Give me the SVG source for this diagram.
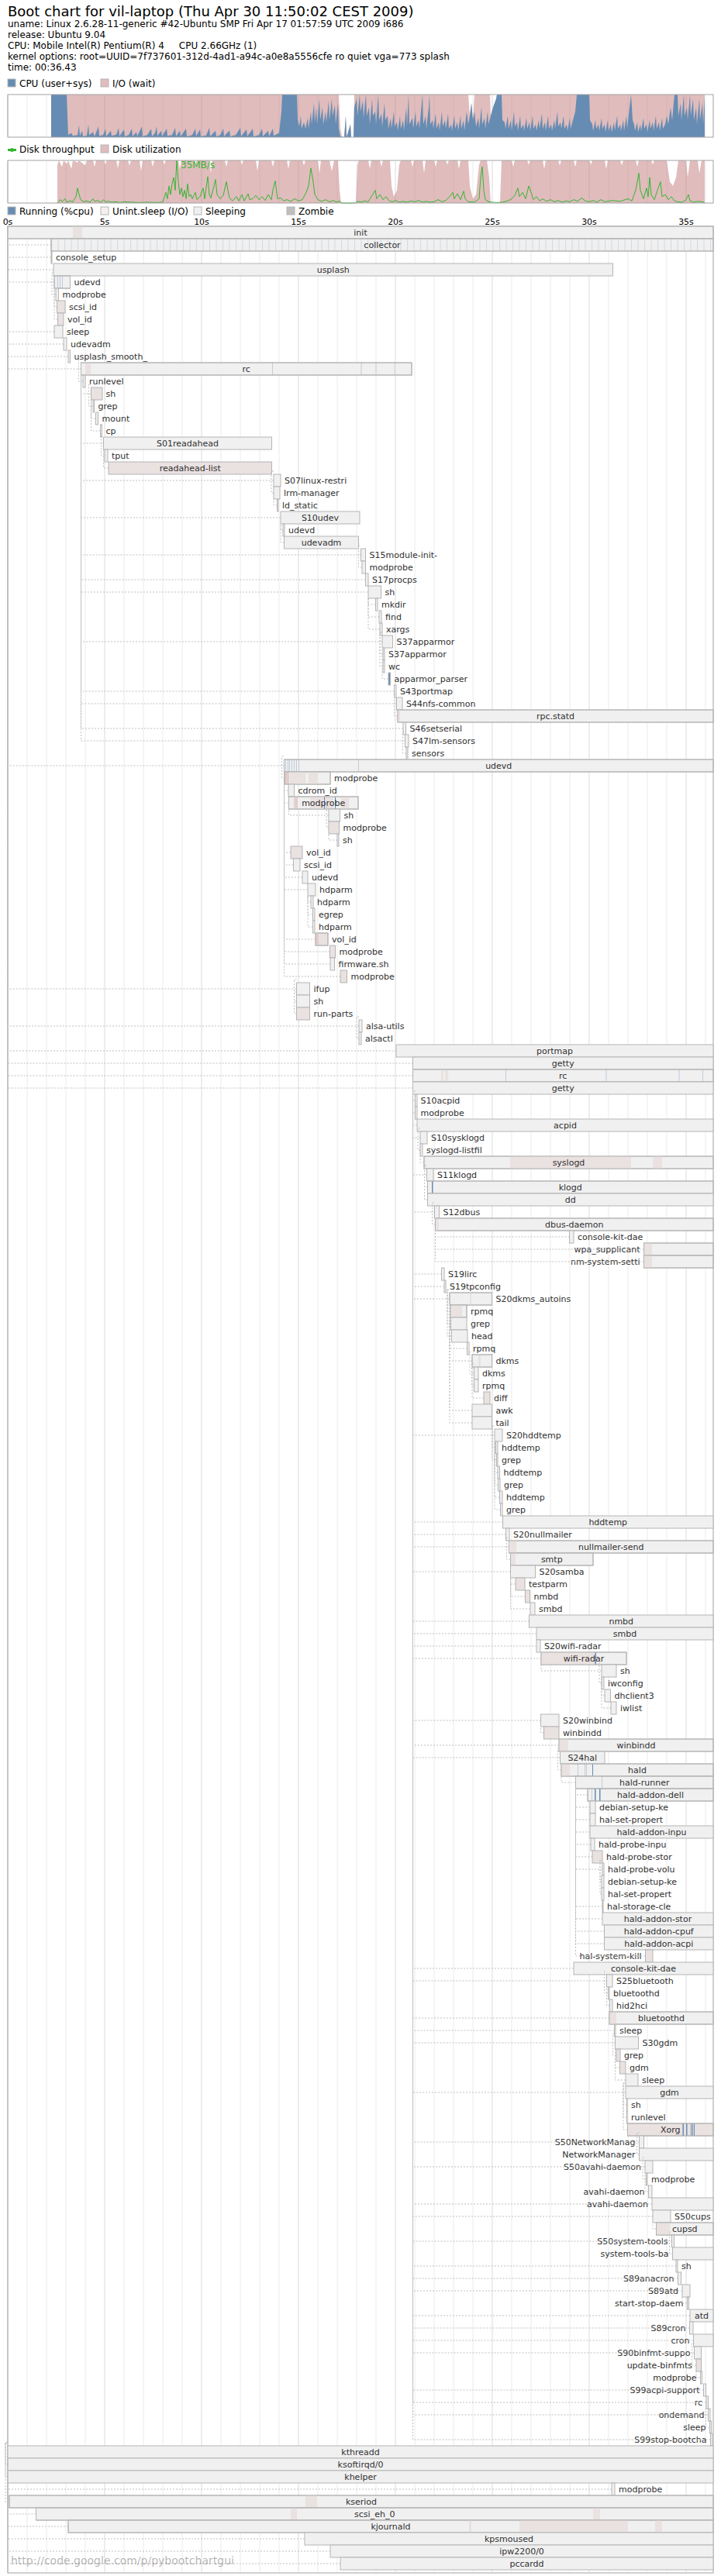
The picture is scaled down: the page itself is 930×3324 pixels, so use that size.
<svg xmlns="http://www.w3.org/2000/svg" width="930" height="3324" viewBox="0 0 930 3324">
<style>
.t{font-family:"DejaVu Sans","Liberation Sans",sans-serif;fill:#000}
.h1{font-size:18px}
.h{font-size:12px}
.ax{font-family:"DejaVu Sans","Liberation Sans",sans-serif;font-size:11px;text-anchor:middle;fill:#000}
.l{font-family:"DejaVu Sans","Liberation Sans",sans-serif;font-size:11px;fill:#303030}
.m{text-anchor:middle}
.e{text-anchor:end}
.b{fill:#f0f0f0;stroke:#b5b5b5;stroke-width:1}
.bd{fill:#eae1e1;stroke:#b5b5b5;stroke-width:1}
.o{fill:none;stroke:#b5b5b5;stroke-width:1}
.d{fill:#eae1e1}
.dd{fill:#e2cccc}
.r{fill:#668cb3}
.rl{fill:#668cb3;fill-opacity:0.35}
.tk{stroke:#ebebeb;stroke-width:1;fill:none}
.tkb{stroke:#dbdbdb;stroke-width:1;fill:none}
.bx{fill:none;stroke:#a1a1a1;stroke-width:1}
.lg{stroke:#b5b5b5;stroke-width:1}
#connectors path{fill:none;stroke:#bfbfbf;stroke-width:1;stroke-dasharray:2 2}
</style>
<defs>
<pattern id="cp" x="66" y="0" width="8.5" height="16" patternUnits="userSpaceOnUse"><rect x="0" y="0" width="1" height="16" fill="#668cb3" fill-opacity="0.22"/></pattern>
</defs>
<rect x="0" y="0" width="930" height="3324" fill="#fff"/>
<g id="header">
<text class="t h1" x="10" y="21">Boot chart for vil-laptop (Thu Apr 30 11:50:02 CEST 2009)</text>
<text class="t h" x="10" y="35">uname: Linux 2.6.28-11-generic #42-Ubuntu SMP Fri Apr 17 01:57:59 UTC 2009 i686</text>
<text class="t h" x="10" y="49">release: Ubuntu 9.04</text>
<text class="t h" x="10" y="63" xml:space="preserve" style="white-space:pre">CPU: Mobile Intel(R) Pentium(R) 4     CPU 2.66GHz (1)</text>
<text class="t h" x="10" y="77">kernel options: root=UUID=7f737601-312d-4ad1-a94c-a0e8a5556cfe ro quiet vga=773 splash</text>
<text class="t h" x="10" y="91">time: 00:36.43</text>
</g>
<g id="cpu-chart">
<rect class="lg" x="10" y="102" width="10" height="10" fill="#668cb3"/>
<text class="t h" x="25" y="112">CPU (user+sys)</text>
<rect class="lg" x="130" y="102" width="10" height="10" fill="#e0bdbd"/>
<text class="t h" x="145" y="112">I/O (wait)</text>
<rect x="10" y="122" width="910" height="55" fill="#fff"/>
<path class="tk" d="M35,123V176M60,123V176M85,123V176M110,123V176M160,123V176M185,123V176M210,123V176M235,123V176M285,123V176M310,123V176M335,123V176M360,123V176M410,123V176M435,123V176M460,123V176M485,123V176M535,123V176M560,123V176M585,123V176M610,123V176M660,123V176M685,123V176M710,123V176M735,123V176M785,123V176M810,123V176M835,123V176M860,123V176M910,123V176"/>
<path class="tkb" d="M10,123V176M135,123V176M260,123V176M385,123V176M510,123V176M635,123V176M760,123V176M885,123V176"/>
<g transform="translate(0,177) scale(1,-0.55)">
<polygon fill="#c27a7a" fill-opacity="0.5" points="66,0 66,100 437,100 439,20 441,2 444,0 446,50 447,0 452,30 453,0 456,0 457,100 604,100 606,50 608,80 610,40 612,100 632,100 633,50 636,70 640,90 641,100 909,100 909,0"/>
<polygon fill="#668cb3" points="66,0 66,100 86,100 87,50 88,5 92,10 94,3 100,5 102,28 103,3 106,15 107,2 112,4 114,30 115,5 120,12 122,2 127,25 128,3 133,5 136,20 137,2 143,15 144,3 150,6 153,22 154,2 160,18 161,2 166,5 170,20 171,2 176,12 177,2 183,25 184,2 190,5 195,20 196,2 200,10 202,25 203,3 208,15 209,2 215,20 216,3 222,5 226,22 227,2 232,15 233,2 240,20 241,2 248,5 252,20 253,2 258,18 259,2 266,4 270,22 271,2 278,15 279,2 284,5 288,20 289,2 296,16 297,2 304,5 310,22 311,2 318,18 319,2 326,20 327,2 334,5 338,20 339,2 346,15 347,2 352,20 353,3 360,10 363,60 364,100 383,100 384,40 386,25 388,50 389,20 392,35 394,20 397,45 398,20 401,60 402,30 405,80 406,35 408,70 409,30 412,90 413,40 416,70 417,30 420,60 421,35 424,85 425,40 428,90 429,50 432,75 433,30 436,80 437,20 439,2 444,0 446,50 447,0 452,30 453,0 456,0 457,70 460,90 461,50 464,100 465,60 468,85 469,45 472,100 473,50 476,70 477,30 480,90 481,50 484,60 485,30 488,100 489,40 492,55 493,25 496,80 497,40 500,50 501,20 504,45 505,20 508,60 509,25 512,35 513,15 516,50 517,20 520,40 521,15 524,70 525,25 527,100 528,30 532,45 533,20 536,60 537,25 540,40 541,20 545,100 546,30 549,50 550,20 553,70 554,100 555,30 558,40 559,20 562,55 563,20 566,35 567,15 570,60 571,25 574,40 575,20 578,55 579,20 582,30 583,15 586,50 587,20 590,35 591,15 594,50 595,20 598,40 599,15 602,60 604,30 606,50 608,80 610,40 612,60 614,25 617,45 618,20 621,70 622,30 625,45 626,20 629,60 630,30 633,50 636,70 640,90 641,100 647,100 648,40 651,35 652,20 655,50 656,20 659,40 660,15 663,60 664,25 667,35 668,15 671,50 672,20 675,30 676,15 679,45 680,20 683,35 684,15 687,50 688,20 691,30 692,15 695,40 696,20 699,55 700,20 703,35 704,15 707,50 708,20 711,30 712,15 715,40 716,20 719,60 720,25 723,35 724,20 727,50 728,20 731,30 732,15 735,45 736,20 739,40 742,60 744,100 760,100 761,40 764,30 765,15 768,40 769,20 772,30 773,15 776,45 777,20 780,30 781,12 784,40 785,15 788,30 789,12 792,35 793,15 796,50 797,20 800,30 801,15 804,40 805,15 808,50 809,20 812,70 814,100 816,40 818,30 819,15 822,35 823,12 826,30 827,15 830,45 831,20 834,30 835,12 838,40 839,20 842,35 843,15 846,50 847,20 850,35 851,15 854,45 855,20 858,30 860,50 862,30 865,70 867,40 870,100 874,100 875,50 878,80 879,40 882,100 883,50 886,70 887,40 890,100 891,50 894,90 895,40 898,70 899,30 902,90 903,40 906,80 907,30 909,95 909,0"/>
</g>
<rect class="bx" x="10" y="122" width="910" height="55"/>
</g>
<g id="disk-chart">
<rect x="10" y="192" width="11" height="3" fill="#33b533"/>
<circle cx="15.5" cy="193.5" r="2.5" fill="#33b533"/>
<text class="t h" x="25" y="197">Disk throughput</text>
<rect class="lg" x="130" y="187" width="10" height="10" fill="#e0bdbd"/>
<text class="t h" x="145" y="197">Disk utilization</text>
<path class="tk" d="M35,208V261M60,208V261M85,208V261M110,208V261M160,208V261M185,208V261M210,208V261M235,208V261M285,208V261M310,208V261M335,208V261M360,208V261M410,208V261M435,208V261M460,208V261M485,208V261M535,208V261M560,208V261M585,208V261M610,208V261M660,208V261M685,208V261M710,208V261M735,208V261M785,208V261M810,208V261M835,208V261M860,208V261M910,208V261"/>
<path class="tkb" d="M10,208V261M135,208V261M260,208V261M385,208V261M510,208V261M635,208V261M760,208V261M885,208V261"/>
<g transform="translate(0,262) scale(1,-0.55)">
<polygon fill="#c27a7a" fill-opacity="0.5" points="74,0 74,90 76,100 80,85 82,100 86,92 88,100 92,80 94,100 100,95 102,100 110,88 112,100 120,100 122,85 124,100 134,100 136,90 138,100 150,100 152,82 154,100 165,100 167,88 169,100 180,100 182,75 184,100 195,100 197,85 199,100 210,100 212,90 214,100 230,100 232,80 234,100 250,100 252,88 254,100 270,100 272,70 274,100 290,100 292,85 294,100 310,100 312,90 314,100 330,100 332,75 334,100 350,100 352,85 354,100 370,100 372,80 374,100 390,100 392,88 394,100 410,100 412,70 414,100 425,100 428,75 431,100 436,100 438,30 440,0 459,0 461,90 463,100 475,100 477,80 479,100 490,100 492,85 494,100 503,100 505,40 508,15 512,30 515,90 517,100 530,100 532,85 534,100 545,100 547,70 549,100 560,100 562,85 564,100 575,100 577,90 579,100 590,100 592,80 594,100 604,100 606,40 610,10 614,20 618,90 620,100 628,100 631,60 633,0 645,0 647,100 660,100 662,85 664,100 680,100 682,90 684,100 700,100 702,80 704,100 720,100 722,88 724,100 740,100 742,85 744,100 760,100 762,90 764,100 780,100 782,80 784,100 800,100 802,88 804,100 820,100 822,85 824,100 840,100 842,90 844,100 860,100 862,75 864,50 868,40 872,60 875,100 885,100 887,60 890,100 900,100 902,70 905,100 909,100 909,0"/>
<polyline fill="none" stroke="#33b533" stroke-width="1" vector-effect="non-scaling-stroke" points="74,0 78,8 80,3 84,10 86,2 90,5 94,3 98,15 100,35 102,20 104,8 108,3 112,5 116,2 120,10 122,4 126,6 130,2 134,8 136,3 140,4 144,2 150,3 155,1 160,3 170,2 180,1 190,2 200,1 210,2 214,25 216,10 218,40 220,20 222,45 224,60 226,30 228,100 230,50 232,20 234,35 236,15 238,30 240,10 242,45 244,15 246,20 248,10 252,25 254,8 258,15 262,35 264,10 268,62 270,20 272,12 276,40 278,55 280,20 284,10 288,18 292,50 294,30 296,12 300,5 305,15 308,5 312,20 315,5 320,22 322,8 326,10 330,18 334,8 338,15 342,6 346,20 350,8 352,30 355,52 358,10 362,12 366,5 370,8 375,4 380,10 385,5 390,8 395,25 398,40 401,82 404,50 406,20 410,8 415,4 420,8 425,3 430,6 434,2 438,5 440,0 458,0 462,4 466,2 470,5 475,3 480,18 484,30 486,10 490,20 494,8 498,15 502,5 506,3 510,6 515,2 520,4 525,2 530,5 535,3 540,6 545,2 550,4 555,2 560,3 565,8 570,3 575,6 580,15 584,25 586,10 590,22 594,8 598,28 600,10 604,3 612,2 618,10 620,60 622,85 624,30 626,8 630,3 640,1 648,2 655,5 660,10 664,18 668,35 670,15 674,25 678,10 682,40 686,20 688,8 692,15 696,5 700,10 705,4 710,8 715,3 720,6 725,2 730,5 735,3 740,8 745,4 750,12 755,5 760,3 765,6 770,2 775,8 780,3 790,6 800,4 810,10 815,5 820,30 824,70 826,30 830,10 834,35 836,15 838,60 840,20 844,8 848,30 852,50 854,15 858,20 862,8 866,15 870,5 874,3 880,2 885,8 888,20 890,5 895,2 900,4 905,3 909,1"/>
</g>
<text class="h" x="233" y="217" font-family="DejaVu Sans, Liberation Sans, sans-serif" fill="#33b533">35MB/s</text>
<rect class="bx" x="10" y="207" width="910" height="55"/>
</g>
<g id="process-legend">
<rect class="lg" x="10" y="267" width="10" height="10" fill="#668cb3"/>
<text class="t h" x="25" y="277">Running (%cpu)</text>
<rect class="lg" x="130" y="267" width="10" height="10" fill="#f7efef"/>
<text class="t h" x="145" y="277">Unint.sleep (I/O)</text>
<rect class="lg" x="250" y="267" width="10" height="10" fill="#f0f0f0"/>
<text class="t h" x="265" y="277">Sleeping</text>
<rect class="lg" x="370" y="267" width="10" height="10" fill="#bfbfbf"/>
<text class="t h" x="385" y="277">Zombie</text>
<text class="ax" x="10" y="290">0s</text>
<text class="ax" x="135" y="290">5s</text>
<text class="ax" x="260" y="290">10s</text>
<text class="ax" x="385" y="290">15s</text>
<text class="ax" x="510" y="290">20s</text>
<text class="ax" x="635" y="290">25s</text>
<text class="ax" x="760" y="290">30s</text>
<text class="ax" x="885" y="290">35s</text>
</g>
<g id="process-grid">
<rect x="10" y="292" width="910" height="3028" fill="#fff"/>
<path class="tk" d="M35,293V3319M60,293V3319M85,293V3319M110,293V3319M160,293V3319M185,293V3319M210,293V3319M235,293V3319M285,293V3319M310,293V3319M335,293V3319M360,293V3319M410,293V3319M435,293V3319M460,293V3319M485,293V3319M535,293V3319M560,293V3319M585,293V3319M610,293V3319M660,293V3319M685,293V3319M710,293V3319M735,293V3319M785,293V3319M810,293V3319M835,293V3319M860,293V3319M910,293V3319"/>
<path class="tkb" d="M10,293V3319M135,293V3319M260,293V3319M385,293V3319M510,293V3319M635,293V3319M760,293V3319M885,293V3319"/>
<rect class="bx" x="10" y="292" width="910" height="3028"/>
</g>
<g id="processes">
<g id="n0" transform="translate(0,292)"><rect class="b" x="10" width="910" height="16"/><rect class="d" x="94" width="12" height="16"/><rect class="o" x="10" width="910" height="16"/><text class="l m" x="465" y="12">init</text></g>
<g id="n1" transform="translate(0,308)"><rect class="b" x="66" width="854" height="16"/><rect x="66" width="854" height="16" fill="url(#cp)"/><rect class="o" x="66" width="854" height="16"/><text class="l m" x="493" y="12">collector</text></g>
<g id="n2" transform="translate(0,324)"><rect class="b" x="66" width="1" height="16"/><text class="l" x="72" y="12">console_setup</text></g>
<g id="n3" transform="translate(0,340)"><rect class="b" x="69" width="721.5" height="16"/><text class="l m" x="429.75" y="12">usplash</text></g>
<g id="n4" transform="translate(0,356)"><rect class="b" x="70" width="20.5" height="16"/><rect class="rl" x="74" width="1" height="16"/><rect class="rl" x="77" width="1" height="16"/><rect class="rl" x="80" width="1" height="16"/><rect class="o" x="70" width="20.5" height="16"/><text class="l" x="95.5" y="12">udevd</text></g>
<g id="n5" transform="translate(0,372)"><rect class="b" x="72" width="3.5" height="16"/><text class="l" x="80.5" y="12">modprobe</text></g>
<g id="n6" transform="translate(0,388)"><rect class="bd" x="73.5" width="10.5" height="16"/><text class="l" x="89" y="12">scsi_id</text></g>
<g id="n7" transform="translate(0,404)"><rect class="bd" x="74.5" width="7.5" height="16"/><text class="l" x="87" y="12">vol_id</text></g>
<g id="n8" transform="translate(0,420)"><rect class="b" x="70" width="11" height="16"/><text class="l" x="86" y="12">sleep</text></g>
<g id="n9" transform="translate(0,436)"><rect class="b" x="82" width="4" height="16"/><text class="l" x="91" y="12">udevadm</text></g>
<g id="n10" transform="translate(0,452)"><rect class="b" x="88" width="2.5" height="16"/><text class="l" x="95.5" y="12">usplash_smooth_</text></g>
<g id="n11" transform="translate(0,468)"><rect class="b" x="104.5" width="426.5" height="16"/><rect class="d" x="110" width="7" height="16"/><rect class="rl" x="351" width="1" height="16"/><rect class="rl" x="465.5" width="1" height="16"/><rect class="rl" x="484.5" width="1" height="16"/><rect class="rl" x="509" width="1" height="16"/><rect class="o" x="104.5" width="426.5" height="16"/><text class="l m" x="317.75" y="12">rc</text></g>
<g id="n12" transform="translate(0,484)"><rect class="b" x="107" width="3" height="16"/><text class="l" x="115" y="12">runlevel</text></g>
<g id="n13" transform="translate(0,500)"><rect class="bd" x="117.5" width="14.5" height="16"/><text class="l" x="136.5" y="12">sh</text></g>
<g id="n14" transform="translate(0,516)"><rect class="b" x="120" width="1.5" height="16"/><text class="l" x="126.5" y="12">grep</text></g>
<g id="n15" transform="translate(0,532)"><rect class="b" x="123.5" width="3" height="16"/><text class="l" x="131.5" y="12">mount</text></g>
<g id="n16" transform="translate(0,548)"><rect class="b" x="129.5" width="2" height="16"/><text class="l" x="136.5" y="12">cp</text></g>
<g id="n17" transform="translate(0,564)"><rect class="b" x="133.5" width="217" height="16"/><text class="l m" x="242" y="12">S01readahead</text></g>
<g id="n18" transform="translate(0,580)"><rect class="b" x="135" width="4" height="16"/><text class="l" x="144" y="12">tput</text></g>
<g id="n19" transform="translate(0,596)"><rect class="bd" x="140" width="210.5" height="16"/><text class="l m" x="245.25" y="12">readahead-list</text></g>
<g id="n20" transform="translate(0,612)"><rect class="b" x="353" width="9" height="16"/><text class="l" x="367" y="12">S07linux-restri</text></g>
<g id="n21" transform="translate(0,628)"><rect class="b" x="353" width="8" height="16"/><text class="l" x="366" y="12">lrm-manager</text></g>
<g id="n22" transform="translate(0,644)"><rect class="b" x="357.5" width="1.5" height="16"/><text class="l" x="364" y="12">ld_static</text></g>
<g id="n23" transform="translate(0,660)"><rect class="b" x="362" width="102" height="16"/><text class="l m" x="413" y="12">S10udev</text></g>
<g id="n24" transform="translate(0,676)"><rect class="b" x="365" width="2" height="16"/><text class="l" x="372" y="12">udevd</text></g>
<g id="n25" transform="translate(0,692)"><rect class="b" x="366.5" width="96" height="16"/><text class="l m" x="414.5" y="12">udevadm</text></g>
<g id="n26" transform="translate(0,708)"><rect class="b" x="465.5" width="6" height="16"/><text class="l" x="476.5" y="12">S15module-init-</text></g>
<g id="n27" transform="translate(0,724)"><rect class="b" x="467" width="4.5" height="16"/><text class="l" x="476.5" y="12">modprobe</text></g>
<g id="n28" transform="translate(0,740)"><rect class="b" x="471.5" width="3.5" height="16"/><text class="l" x="480" y="12">S17procps</text></g>
<g id="n29" transform="translate(0,756)"><rect class="b" x="475" width="16.5" height="16"/><text class="l" x="496.5" y="12">sh</text></g>
<g id="n30" transform="translate(0,772)"><rect class="b" x="484.5" width="2.5" height="16"/><text class="l" x="492" y="12">mkdir</text></g>
<g id="n31" transform="translate(0,788)"><rect class="b" x="489" width="3" height="16"/><text class="l" x="497" y="12">find</text></g>
<g id="n32" transform="translate(0,804)"><rect class="b" x="490" width="3" height="16"/><text class="l" x="498" y="12">xargs</text></g>
<g id="n33" transform="translate(0,820)"><rect class="b" x="493" width="13.5" height="16"/><text class="l" x="511.5" y="12">S37apparmor</text></g>
<g id="n34" transform="translate(0,836)"><rect class="b" x="494" width="2" height="16"/><text class="l" x="501" y="12">S37apparmor</text></g>
<g id="n35" transform="translate(0,852)"><rect class="b" x="494" width="2" height="16"/><text class="l" x="501" y="12">wc</text></g>
<g id="n36" transform="translate(0,868)"><rect x="501" width="2.5" height="16" fill="#668cb3" stroke="#b5b5b5"/><text class="l" x="508.5" y="12">apparmor_parser</text></g>
<g id="n37" transform="translate(0,884)"><rect class="b" x="508.5" width="2.5" height="16"/><text class="l" x="516" y="12">S43portmap</text></g>
<g id="n38" transform="translate(0,900)"><rect class="b" x="511.5" width="7.5" height="16"/><text class="l" x="524" y="12">S44nfs-common</text></g>
<g id="n39" transform="translate(0,916)"><rect class="b" x="513" width="407" height="16"/><rect class="d" x="513" width="3" height="16"/><rect class="o" x="513" width="407" height="16"/><text class="l m" x="716.5" y="12">rpc.statd</text></g>
<g id="n40" transform="translate(0,932)"><rect class="b" x="520" width="3.5" height="16"/><text class="l" x="528.5" y="12">S46setserial</text></g>
<g id="n41" transform="translate(0,948)"><rect class="b" x="522.5" width="4.5" height="16"/><text class="l" x="532" y="12">S47lm-sensors</text></g>
<g id="n42" transform="translate(0,964)"><rect class="b" x="524" width="2" height="16"/><text class="l" x="531" y="12">sensors</text></g>
<g id="n43" transform="translate(0,980)"><rect class="b" x="366.5" width="553.5" height="16"/><rect class="rl" x="368" width="1" height="16"/><rect class="rl" x="371" width="1" height="16"/><rect class="rl" x="373" width="1" height="16"/><rect class="rl" x="376" width="1" height="16"/><rect class="rl" x="379" width="1" height="16"/><rect class="rl" x="382" width="1" height="16"/><rect class="rl" x="385" width="1" height="16"/><rect class="rl" x="462" width="1" height="16"/><rect class="o" x="366.5" width="553.5" height="16"/><text class="l m" x="643.25" y="12">udevd</text></g>
<g id="n44" transform="translate(0,996)"><rect class="b" x="367.5" width="58.5" height="16"/><rect class="dd" x="368" width="5" height="16"/><rect class="d" x="374" width="20" height="16"/><rect class="d" x="398" width="12" height="16"/><rect class="o" x="367.5" width="58.5" height="16"/><text class="l" x="431" y="12">modprobe</text></g>
<g id="n45" transform="translate(0,1012)"><rect class="b" x="372" width="7.5" height="16"/><text class="l" x="384.5" y="12">cdrom_id</text></g>
<g id="n46" transform="translate(0,1028)"><rect class="b" x="372.5" width="89.5" height="16"/><rect class="d" x="378" width="6" height="16"/><rect class="dd" x="380" width="4" height="16"/><rect class="d" x="400" width="30" height="16"/><rect class="r" x="418" width="1" height="16"/><rect class="r" x="432" width="1" height="16"/><rect class="d" x="440" width="10" height="16"/><rect class="o" x="372.5" width="89.5" height="16"/><text class="l m" x="417.25" y="12">modprobe</text></g>
<g id="n47" transform="translate(0,1044)"><rect class="b" x="424" width="14.5" height="16"/><text class="l" x="443.5" y="12">sh</text></g>
<g id="n48" transform="translate(0,1060)"><rect class="bd" x="424" width="13.5" height="16"/><text class="l" x="442.5" y="12">modprobe</text></g>
<g id="n49" transform="translate(0,1076)"><rect class="b" x="435" width="2" height="16"/><text class="l" x="442" y="12">sh</text></g>
<g id="n50" transform="translate(0,1092)"><rect class="bd" x="375" width="15" height="16"/><text class="l" x="395" y="12">vol_id</text></g>
<g id="n51" transform="translate(0,1108)"><rect class="b" x="378.5" width="8.5" height="16"/><text class="l" x="392" y="12">scsi_id</text></g>
<g id="n52" transform="translate(0,1124)"><rect class="b" x="390" width="7" height="16"/><text class="l" x="402" y="12">udevd</text></g>
<g id="n53" transform="translate(0,1140)"><rect class="b" x="397" width="10" height="16"/><text class="l" x="412" y="12">hdparm</text></g>
<g id="n54" transform="translate(0,1156)"><rect class="b" x="401" width="3" height="16"/><text class="l" x="409" y="12">hdparm</text></g>
<g id="n55" transform="translate(0,1172)"><rect class="b" x="403.5" width="2.5" height="16"/><text class="l" x="411" y="12">egrep</text></g>
<g id="n56" transform="translate(0,1188)"><rect class="b" x="403.5" width="2.5" height="16"/><text class="l" x="411" y="12">hdparm</text></g>
<g id="n57" transform="translate(0,1204)"><rect class="bd" x="407" width="16" height="16"/><rect class="dd" x="407" width="4" height="16"/><rect class="o" x="407" width="16" height="16"/><text class="l" x="428" y="12">vol_id</text></g>
<g id="n58" transform="translate(0,1220)"><rect class="bd" x="425.5" width="7" height="16"/><text class="l" x="437.5" y="12">modprobe</text></g>
<g id="n59" transform="translate(0,1236)"><rect class="b" x="426" width="5.5" height="16"/><text class="l" x="436.5" y="12">firmware.sh</text></g>
<g id="n60" transform="translate(0,1252)"><rect class="bd" x="439" width="8.5" height="16"/><text class="l" x="452.5" y="12">modprobe</text></g>
<g id="n61" transform="translate(0,1268)"><rect class="b" x="382.5" width="17" height="16"/><text class="l" x="404.5" y="12">ifup</text></g>
<g id="n62" transform="translate(0,1284)"><rect class="b" x="382.5" width="17" height="16"/><text class="l" x="404.5" y="12">sh</text></g>
<g id="n63" transform="translate(0,1300)"><rect class="bd" x="382.5" width="17" height="16"/><text class="l" x="404.5" y="12">run-parts</text></g>
<g id="n64" transform="translate(0,1316)"><rect class="b" x="463" width="4" height="16"/><text class="l" x="472" y="12">alsa-utils</text></g>
<g id="n65" transform="translate(0,1332)"><rect class="b" x="463" width="3" height="16"/><text class="l" x="471" y="12">alsactl</text></g>
<g id="n66" transform="translate(0,1348)"><rect class="b" x="511" width="409" height="16"/><text class="l m" x="715.5" y="12">portmap</text></g>
<g id="n67" transform="translate(0,1364)"><rect class="b" x="532.5" width="387.5" height="16"/><text class="l m" x="726.25" y="12">getty</text></g>
<g id="n68" transform="translate(0,1380)"><rect class="b" x="532.5" width="387.5" height="16"/><rect class="d" x="569" width="3" height="16"/><rect class="d" x="574" width="4" height="16"/><rect class="rl" x="652" width="1" height="16"/><rect class="rl" x="781.5" width="1" height="16"/><rect class="rl" x="875.5" width="1" height="16"/><rect class="rl" x="906" width="1" height="16"/><rect class="o" x="532.5" width="387.5" height="16"/><text class="l m" x="726.25" y="12">rc</text></g>
<g id="n69" transform="translate(0,1396)"><rect class="b" x="532.5" width="387.5" height="16"/><text class="l m" x="726.25" y="12">getty</text></g>
<g id="n70" transform="translate(0,1412)"><rect class="b" x="535.5" width="2.5" height="16"/><text class="l" x="542.5" y="12">S10acpid</text></g>
<g id="n71" transform="translate(0,1428)"><rect class="b" x="535.5" width="2.5" height="16"/><text class="l" x="542.5" y="12">modprobe</text></g>
<g id="n72" transform="translate(0,1444)"><rect class="b" x="538" width="382" height="16"/><text class="l m" x="729" y="12">acpid</text></g>
<g id="n73" transform="translate(0,1460)"><rect class="b" x="542" width="9" height="16"/><text class="l" x="556" y="12">S10sysklogd</text></g>
<g id="n74" transform="translate(0,1476)"><rect class="b" x="542" width="3" height="16"/><text class="l" x="550" y="12">syslogd-listfil</text></g>
<g id="n75" transform="translate(0,1492)"><rect class="b" x="547" width="373" height="16"/><rect class="d" x="658" width="156" height="16"/><rect class="d" x="842" width="12" height="16"/><rect class="o" x="547" width="373" height="16"/><text class="l m" x="733.5" y="12">syslogd</text></g>
<g id="n76" transform="translate(0,1508)"><rect class="b" x="550.5" width="8.5" height="16"/><text class="l" x="564" y="12">S11klogd</text></g>
<g id="n77" transform="translate(0,1524)"><rect class="b" x="551.5" width="368.5" height="16"/><rect class="r" x="557" width="1.5" height="16"/><rect class="o" x="551.5" width="368.5" height="16"/><text class="l m" x="735.75" y="12">klogd</text></g>
<g id="n78" transform="translate(0,1540)"><rect class="b" x="551.5" width="368.5" height="16"/><text class="l m" x="735.75" y="12">dd</text></g>
<g id="n79" transform="translate(0,1556)"><rect class="b" x="560.5" width="6" height="16"/><text class="l" x="571.5" y="12">S12dbus</text></g>
<g id="n80" transform="translate(0,1572)"><rect class="b" x="561.5" width="358.5" height="16"/><rect class="d" x="562" width="4" height="16"/><rect class="o" x="561.5" width="358.5" height="16"/><text class="l m" x="740.75" y="12">dbus-daemon</text></g>
<g id="n81" transform="translate(0,1588)"><rect class="b" x="734.5" width="5.5" height="16"/><text class="l" x="745" y="12">console-kit-dae</text></g>
<g id="n82" transform="translate(0,1604)"><rect class="b" x="830.5" width="89.5" height="16"/><rect class="d" x="831" width="10" height="16"/><rect class="o" x="830.5" width="89.5" height="16"/><text class="l e" x="825.5" y="12">wpa_supplicant</text></g>
<g id="n83" transform="translate(0,1620)"><rect class="b" x="830.5" width="89.5" height="16"/><rect class="d" x="831" width="10" height="16"/><rect class="o" x="830.5" width="89.5" height="16"/><text class="l e" x="825.5" y="12">nm-system-setti</text></g>
<g id="n84" transform="translate(0,1636)"><rect class="b" x="569.5" width="3.5" height="16"/><text class="l" x="578" y="12">S19lirc</text></g>
<g id="n85" transform="translate(0,1652)"><rect class="b" x="573" width="2" height="16"/><text class="l" x="580" y="12">S19tpconfig</text></g>
<g id="n86" transform="translate(0,1668)"><rect class="b" x="580" width="54.5" height="16"/><rect class="d" x="606" width="2" height="16"/><rect class="o" x="580" width="54.5" height="16"/><text class="l" x="639.5" y="12">S20dkms_autoins</text></g>
<g id="n87" transform="translate(0,1684)"><rect class="b" x="581.5" width="20.5" height="16"/><rect class="d" x="583" width="13" height="16"/><rect class="o" x="581.5" width="20.5" height="16"/><text class="l" x="607" y="12">rpmq</text></g>
<g id="n88" transform="translate(0,1700)"><rect class="b" x="581.5" width="20.5" height="16"/><text class="l" x="607" y="12">grep</text></g>
<g id="n89" transform="translate(0,1716)"><rect class="b" x="582.5" width="20.5" height="16"/><text class="l" x="608" y="12">head</text></g>
<g id="n90" transform="translate(0,1732)"><rect class="b" x="602.5" width="2.5" height="16"/><text class="l" x="610" y="12">rpmq</text></g>
<g id="n91" transform="translate(0,1748)"><rect class="b" x="609" width="25.5" height="16"/><rect class="d" x="617" width="3" height="16"/><rect class="o" x="609" width="25.5" height="16"/><text class="l" x="639.5" y="12">dkms</text></g>
<g id="n92" transform="translate(0,1764)"><rect class="b" x="611.5" width="5.5" height="16"/><text class="l" x="622" y="12">dkms</text></g>
<g id="n93" transform="translate(0,1780)"><rect class="b" x="611.5" width="5.5" height="16"/><text class="l" x="622" y="12">rpmq</text></g>
<g id="n94" transform="translate(0,1796)"><rect class="bd" x="624" width="8" height="16"/><text class="l" x="637" y="12">diff</text></g>
<g id="n95" transform="translate(0,1812)"><rect class="b" x="609" width="25.5" height="16"/><text class="l" x="639.5" y="12">awk</text></g>
<g id="n96" transform="translate(0,1828)"><rect class="b" x="609" width="25.5" height="16"/><text class="l" x="639.5" y="12">tail</text></g>
<g id="n97" transform="translate(0,1844)"><rect class="b" x="638" width="10" height="16"/><text class="l" x="653" y="12">S20hddtemp</text></g>
<g id="n98" transform="translate(0,1860)"><rect class="b" x="639.5" width="2.5" height="16"/><text class="l" x="647" y="12">hddtemp</text></g>
<g id="n99" transform="translate(0,1876)"><rect class="b" x="640.5" width="1.5" height="16"/><text class="l" x="647" y="12">grep</text></g>
<g id="n100" transform="translate(0,1892)"><rect class="b" x="642" width="2.5" height="16"/><text class="l" x="649.5" y="12">hddtemp</text></g>
<g id="n101" transform="translate(0,1908)"><rect class="b" x="642.5" width="2.5" height="16"/><text class="l" x="650" y="12">grep</text></g>
<g id="n102" transform="translate(0,1924)"><rect class="b" x="644.5" width="3.5" height="16"/><text class="l" x="653" y="12">hddtemp</text></g>
<g id="n103" transform="translate(0,1940)"><rect class="b" x="645.5" width="2.5" height="16"/><text class="l" x="653" y="12">grep</text></g>
<g id="n104" transform="translate(0,1956)"><rect class="b" x="648.5" width="271.5" height="16"/><text class="l m" x="784.25" y="12">hddtemp</text></g>
<g id="n105" transform="translate(0,1972)"><rect class="b" x="652.5" width="4.5" height="16"/><text class="l" x="662" y="12">S20nullmailer</text></g>
<g id="n106" transform="translate(0,1988)"><rect class="b" x="656.5" width="263.5" height="16"/><rect class="d" x="658" width="8" height="16"/><rect class="o" x="656.5" width="263.5" height="16"/><text class="l m" x="788.25" y="12">nullmailer-send</text></g>
<g id="n107" transform="translate(0,2004)"><rect class="b" x="658.5" width="106.5" height="16"/><rect class="d" x="659" width="6" height="16"/><rect class="o" x="658.5" width="106.5" height="16"/><text class="l m" x="711.75" y="12">smtp</text></g>
<g id="n108" transform="translate(0,2020)"><rect class="b" x="658.5" width="32" height="16"/><text class="l" x="695.5" y="12">S20samba</text></g>
<g id="n109" transform="translate(0,2036)"><rect class="bd" x="665" width="12" height="16"/><text class="l" x="682" y="12">testparm</text></g>
<g id="n110" transform="translate(0,2052)"><rect class="bd" x="677.5" width="6" height="16"/><text class="l" x="688.5" y="12">nmbd</text></g>
<g id="n111" transform="translate(0,2068)"><rect class="b" x="684" width="6" height="16"/><text class="l" x="695" y="12">smbd</text></g>
<g id="n112" transform="translate(0,2084)"><rect class="b" x="682.5" width="237.5" height="16"/><text class="l m" x="801.25" y="12">nmbd</text></g>
<g id="n113" transform="translate(0,2100)"><rect class="b" x="692" width="228" height="16"/><text class="l m" x="806" y="12">smbd</text></g>
<g id="n114" transform="translate(0,2116)"><rect class="b" x="692" width="5" height="16"/><text class="l" x="702" y="12">S20wifi-radar</text></g>
<g id="n115" transform="translate(0,2132)"><rect class="b" x="698" width="110" height="16"/><rect class="d" x="698" width="70" height="16"/><rect class="r" x="767.5" width="1.5" height="16"/><rect class="o" x="698" width="110" height="16"/><text class="l m" x="753" y="12">wifi-radar</text></g>
<g id="n116" transform="translate(0,2148)"><rect class="b" x="776" width="19" height="16"/><text class="l" x="800" y="12">sh</text></g>
<g id="n117" transform="translate(0,2164)"><rect class="b" x="776" width="3" height="16"/><text class="l" x="784" y="12">iwconfig</text></g>
<g id="n118" transform="translate(0,2180)"><rect class="b" x="780" width="7.5" height="16"/><text class="l" x="792.5" y="12">dhclient3</text></g>
<g id="n119" transform="translate(0,2196)"><rect class="b" x="788" width="7" height="16"/><text class="l" x="800" y="12">iwlist</text></g>
<g id="n120" transform="translate(0,2212)"><rect class="b" x="697.5" width="23.5" height="16"/><text class="l" x="726" y="12">S20winbind</text></g>
<g id="n121" transform="translate(0,2228)"><rect class="bd" x="701.5" width="19.5" height="16"/><text class="l" x="726" y="12">winbindd</text></g>
<g id="n122" transform="translate(0,2244)"><rect class="b" x="721" width="199" height="16"/><rect class="d" x="721" width="12" height="16"/><rect class="o" x="721" width="199" height="16"/><text class="l m" x="820.5" y="12">winbindd</text></g>
<g id="n123" transform="translate(0,2260)"><rect class="b" x="722.5" width="57.5" height="16"/><text class="l m" x="751.25" y="12">S24hal</text></g>
<g id="n124" transform="translate(0,2276)"><rect class="b" x="724" width="196" height="16"/><rect class="d" x="724" width="11" height="16"/><rect class="rl" x="745" width="1" height="16"/><rect class="rl" x="754" width="1" height="16"/><rect class="rl" x="756" width="1" height="16"/><rect class="r" x="764" width="1" height="16"/><rect class="o" x="724" width="196" height="16"/><text class="l m" x="822" y="12">hald</text></g>
<g id="n125" transform="translate(0,2292)"><rect class="b" x="742.5" width="177.5" height="16"/><rect class="rl" x="776" width="1" height="16"/><rect class="o" x="742.5" width="177.5" height="16"/><text class="l m" x="831.25" y="12">hald-runner</text></g>
<g id="n126" transform="translate(0,2308)"><rect class="b" x="758" width="162" height="16"/><rect class="rl" x="763" width="1" height="16"/><rect class="r" x="767" width="1.5" height="16"/><rect class="r" x="773" width="1.5" height="16"/><rect class="o" x="758" width="162" height="16"/><text class="l m" x="839" y="12">hald-addon-dell</text></g>
<g id="n127" transform="translate(0,2324)"><rect class="b" x="761" width="7" height="16"/><text class="l" x="773" y="12">debian-setup-ke</text></g>
<g id="n128" transform="translate(0,2340)"><rect class="b" x="761" width="7" height="16"/><text class="l" x="773" y="12">hal-set-propert</text></g>
<g id="n129" transform="translate(0,2356)"><rect class="b" x="761" width="159" height="16"/><text class="l m" x="840.5" y="12">hald-addon-inpu</text></g>
<g id="n130" transform="translate(0,2372)"><rect class="b" x="762" width="5" height="16"/><text class="l" x="772" y="12">hald-probe-inpu</text></g>
<g id="n131" transform="translate(0,2388)"><rect class="bd" x="764" width="13" height="16"/><text class="l" x="782" y="12">hald-probe-stor</text></g>
<g id="n132" transform="translate(0,2404)"><rect class="b" x="777" width="2" height="16"/><text class="l" x="784" y="12">hald-probe-volu</text></g>
<g id="n133" transform="translate(0,2420)"><rect class="b" x="776" width="3" height="16"/><text class="l" x="784" y="12">debian-setup-ke</text></g>
<g id="n134" transform="translate(0,2436)"><rect class="b" x="776" width="3" height="16"/><text class="l" x="784" y="12">hal-set-propert</text></g>
<g id="n135" transform="translate(0,2452)"><rect class="b" x="777" width="1" height="16"/><text class="l" x="783" y="12">hal-storage-cle</text></g>
<g id="n136" transform="translate(0,2468)"><rect class="b" x="777" width="143" height="16"/><text class="l m" x="848.5" y="12">hald-addon-stor</text></g>
<g id="n137" transform="translate(0,2484)"><rect class="b" x="779.5" width="140.5" height="16"/><text class="l m" x="849.75" y="12">hald-addon-cpuf</text></g>
<g id="n138" transform="translate(0,2500)"><rect class="b" x="779.5" width="140.5" height="16"/><text class="l m" x="849.75" y="12">hald-addon-acpi</text></g>
<g id="n139" transform="translate(0,2516)"><rect class="bd" x="832.5" width="9.5" height="16"/><text class="l e" x="827.5" y="12">hal-system-kill</text></g>
<g id="n140" transform="translate(0,2532)"><rect class="b" x="740" width="180" height="16"/><text class="l m" x="830" y="12">console-kit-dae</text></g>
<g id="n141" transform="translate(0,2548)"><rect class="b" x="782.5" width="7.5" height="16"/><text class="l" x="795" y="12">S25bluetooth</text></g>
<g id="n142" transform="translate(0,2564)"><rect class="b" x="784.5" width="1.5" height="16"/><text class="l" x="791" y="12">bluetoothd</text></g>
<g id="n143" transform="translate(0,2580)"><rect class="b" x="786.5" width="3.5" height="16"/><text class="l" x="795" y="12">hid2hci</text></g>
<g id="n144" transform="translate(0,2596)"><rect class="b" x="786" width="134" height="16"/><rect class="d" x="786" width="9" height="16"/><rect class="o" x="786" width="134" height="16"/><text class="l m" x="853" y="12">bluetoothd</text></g>
<g id="n145" transform="translate(0,2612)"><rect class="b" x="792.5" width="1.5" height="16"/><text class="l" x="799" y="12">sleep</text></g>
<g id="n146" transform="translate(0,2628)"><rect class="b" x="793.5" width="30" height="16"/><text class="l" x="828.5" y="12">S30gdm</text></g>
<g id="n147" transform="translate(0,2644)"><rect class="bd" x="795" width="5" height="16"/><text class="l" x="805" y="12">grep</text></g>
<g id="n148" transform="translate(0,2660)"><rect class="bd" x="799.5" width="7.5" height="16"/><text class="l" x="812" y="12">gdm</text></g>
<g id="n149" transform="translate(0,2676)"><rect class="b" x="807" width="16" height="16"/><text class="l" x="828" y="12">sleep</text></g>
<g id="n150" transform="translate(0,2692)"><rect class="b" x="807" width="113" height="16"/><text class="l m" x="863.5" y="12">gdm</text></g>
<g id="n151" transform="translate(0,2708)"><rect class="b" x="808.5" width="0.5" height="16"/><text class="l" x="814" y="12">sh</text></g>
<g id="n152" transform="translate(0,2724)"><rect class="b" x="808.5" width="0.5" height="16"/><text class="l" x="814" y="12">runlevel</text></g>
<g id="n153" transform="translate(0,2740)"><rect class="bd" x="809.5" width="110.5" height="16"/><rect class="r" x="880.5" width="1.5" height="16"/><rect class="r" x="885" width="1.5" height="16"/><rect class="r" x="891" width="1" height="16"/><rect class="r" x="893" width="1" height="16"/><rect class="r" x="895" width="1" height="16"/><rect class="o" x="809.5" width="110.5" height="16"/><text class="l m" x="864.75" y="12">Xorg</text></g>
<g id="n154" transform="translate(0,2756)"><rect class="b" x="824.5" width="6" height="16"/><text class="l e" x="819.5" y="12">S50NetworkManag</text></g>
<g id="n155" transform="translate(0,2772)"><rect class="b" x="824.5" width="95.5" height="16"/><text class="l e" x="819.5" y="12">NetworkManager</text></g>
<g id="n156" transform="translate(0,2788)"><rect class="b" x="832" width="10" height="16"/><text class="l e" x="827" y="12">S50avahi-daemon</text></g>
<g id="n157" transform="translate(0,2804)"><rect class="b" x="833.5" width="1.5" height="16"/><text class="l" x="840" y="12">modprobe</text></g>
<g id="n158" transform="translate(0,2820)"><rect class="b" x="836.5" width="4.5" height="16"/><text class="l e" x="831.5" y="12">avahi-daemon</text></g>
<g id="n159" transform="translate(0,2836)"><rect class="b" x="841" width="79" height="16"/><text class="l e" x="836" y="12">avahi-daemon</text></g>
<g id="n160" transform="translate(0,2852)"><rect class="b" x="842" width="23" height="16"/><text class="l" x="870" y="12">S50cups</text></g>
<g id="n161" transform="translate(0,2868)"><rect class="b" x="846.5" width="73.5" height="16"/><rect class="d" x="847" width="17" height="16"/><rect class="o" x="846.5" width="73.5" height="16"/><text class="l m" x="883.25" y="12">cupsd</text></g>
<g id="n162" transform="translate(0,2884)"><rect class="b" x="866.5" width="3" height="16"/><text class="l e" x="861.5" y="12">S50system-tools</text></g>
<g id="n163" transform="translate(0,2900)"><rect class="b" x="867.5" width="52.5" height="16"/><text class="l e" x="862.5" y="12">system-tools-ba</text></g>
<g id="n164" transform="translate(0,2916)"><rect class="b" x="872" width="2" height="16"/><text class="l" x="879" y="12">sh</text></g>
<g id="n165" transform="translate(0,2932)"><rect class="b" x="874.5" width="4" height="16"/><text class="l e" x="869.5" y="12">S89anacron</text></g>
<g id="n166" transform="translate(0,2948)"><rect class="b" x="880" width="10" height="16"/><text class="l e" x="875" y="12">S89atd</text></g>
<g id="n167" transform="translate(0,2964)"><rect class="b" x="886.5" width="2" height="16"/><text class="l e" x="881.5" y="12">start-stop-daem</text></g>
<g id="n168" transform="translate(0,2980)"><rect class="b" x="890" width="30" height="16"/><text class="l m" x="905" y="12">atd</text></g>
<g id="n169" transform="translate(0,2996)"><rect class="b" x="889.5" width="4.5" height="16"/><text class="l e" x="884.5" y="12">S89cron</text></g>
<g id="n170" transform="translate(0,3012)"><rect class="b" x="894.5" width="25.5" height="16"/><text class="l e" x="889.5" y="12">cron</text></g>
<g id="n171" transform="translate(0,3028)"><rect class="b" x="895.5" width="9" height="16"/><text class="l e" x="890.5" y="12">S90binfmt-suppo</text></g>
<g id="n172" transform="translate(0,3044)"><rect class="bd" x="898" width="6.5" height="16"/><text class="l e" x="893" y="12">update-binfmts</text></g>
<g id="n173" transform="translate(0,3060)"><rect class="b" x="903.5" width="2" height="16"/><text class="l e" x="898.5" y="12">modprobe</text></g>
<g id="n174" transform="translate(0,3076)"><rect class="b" x="907.5" width="3" height="16"/><text class="l e" x="902.5" y="12">S99acpi-support</text></g>
<g id="n175" transform="translate(0,3092)"><rect class="b" x="911" width="2.5" height="16"/><text class="l e" x="906" y="12">rc</text></g>
<g id="n176" transform="translate(0,3108)"><rect class="b" x="913.5" width="2.5" height="16"/><text class="l e" x="908.5" y="12">ondemand</text></g>
<g id="n177" transform="translate(0,3124)"><rect class="b" x="915.5" width="2" height="16"/><text class="l e" x="910.5" y="12">sleep</text></g>
<g id="n178" transform="translate(0,3140)"><rect class="b" x="916.5" width="2.5" height="16"/><text class="l e" x="911.5" y="12">S99stop-bootcha</text></g>
<g id="n179" transform="translate(0,3156)"><rect class="b" x="10" width="910" height="16"/><text class="l m" x="465" y="12">kthreadd</text></g>
<g id="n180" transform="translate(0,3172)"><rect class="b" x="10" width="910" height="16"/><text class="l m" x="465" y="12">ksoftirqd/0</text></g>
<g id="n181" transform="translate(0,3188)"><rect class="b" x="10" width="910" height="16"/><text class="l m" x="465" y="12">khelper</text></g>
<g id="n182" transform="translate(0,3204)"><rect class="b" x="789" width="4" height="16"/><text class="l" x="798" y="12">modprobe</text></g>
<g id="n183" transform="translate(0,3220)"><rect class="b" x="12" width="908" height="16"/><rect class="d" x="394" width="15" height="16"/><rect class="o" x="12" width="908" height="16"/><text class="l m" x="466" y="12">kseriod</text></g>
<g id="n184" transform="translate(0,3236)"><rect class="b" x="46.5" width="873.5" height="16"/><rect class="d" x="375" width="8" height="16"/><rect class="d" x="765" width="9" height="16"/><rect class="o" x="46.5" width="873.5" height="16"/><text class="l m" x="483.25" y="12">scsi_eh_0</text></g>
<g id="n185" transform="translate(0,3252)"><rect class="b" x="88" width="832" height="16"/><rect class="d" x="605" width="3" height="16"/><rect class="d" x="670" width="140" height="16"/><rect class="d" x="845" width="9" height="16"/><rect class="o" x="88" width="832" height="16"/><text class="l m" x="504" y="12">kjournald</text></g>
<g id="n186" transform="translate(0,3268)"><rect class="b" x="393" width="527" height="16"/><text class="l m" x="656.5" y="12">kpsmoused</text></g>
<g id="n187" transform="translate(0,3284)"><rect class="b" x="426" width="494" height="16"/><text class="l m" x="673" y="12">ipw2200/0</text></g>
<g id="n188" transform="translate(0,3300)"><rect class="b" x="439" width="481" height="16"/><text class="l m" x="679.5" y="12">pccardd</text></g>
</g>
<g id="connectors">
<path d="M66,316H10V308"/><path d="M66,332H10V308"/><path d="M69,348H10V308"/><path d="M70,364H10V308"/>
<path d="M72,380H67V352H70"/><path d="M73.5,396H70V372"/><path d="M74.5,412H70V372"/>
<path d="M70,428H10V308"/><path d="M82,444H10V308"/><path d="M88,460H10V308"/><path d="M104.5,476H10V308"/>
<path d="M107,492H101.5V464H104.5"/><path d="M117.5,508H104.5V484"/><path d="M120,524H114.5V496H117.5"/>
<path d="M123.5,540H117.5V516"/><path d="M129.5,556H117.5V516"/><path d="M133.5,572H104.5V484"/>
<path d="M135,588H130.5V560H133.5"/><path d="M140,604H133.5V580"/><path d="M353,620H104.5V484"/>
<path d="M353,636H350V608H353"/><path d="M357.5,652H353V644"/><path d="M362,668H104.5V484"/>
<path d="M365,684H362V676"/><path d="M366.5,700H362V676"/><path d="M465.5,716H104.5V484"/>
<path d="M467,732H462.5V704H465.5"/><path d="M471.5,748H104.5V484"/><path d="M475,764H104.5V484"/>
<path d="M484.5,780H475V772"/><path d="M489,796H475V772"/><path d="M490,812H475V772"/>
<path d="M493,828H104.5V484"/><path d="M494,844H490V816H493"/><path d="M494,860H490V816H493"/>
<path d="M501,876H493V836"/><path d="M508.5,892H104.5V484"/><path d="M511.5,908H104.5V484"/>
<path d="M513,924H508.5V896H511.5"/><path d="M520,940H104.5V484"/><path d="M522.5,956H104.5V484"/>
<path d="M524,972H519.5V944H522.5"/><path d="M366.5,988H10V308"/><path d="M367.5,1004H363.5V976H366.5"/>
<path d="M372,1020H366.5V996"/><path d="M372.5,1036H366.5V996"/><path d="M424,1052H372.5V1044"/>
<path d="M424,1068H421V1040H424"/><path d="M435,1084H424V1076"/><path d="M375,1100H366.5V996"/>
<path d="M378.5,1116H366.5V996"/><path d="M390,1132H366.5V996"/><path d="M397,1148H366.5V996"/>
<path d="M401,1164H397V1156"/><path d="M403.5,1180H397V1156"/><path d="M403.5,1196H397V1156"/>
<path d="M407,1212H366.5V996"/><path d="M425.5,1228H366.5V996"/><path d="M426,1244H366.5V996"/>
<path d="M439,1260H366.5V996"/><path d="M382.5,1276H10V308"/><path d="M382.5,1292H379.5V1264H382.5"/>
<path d="M382.5,1308H379.5V1280H382.5"/><path d="M463,1324H10V308"/><path d="M463,1340H460V1312H463"/>
<path d="M511,1356H10V308"/><path d="M532.5,1372H10V308"/><path d="M532.5,1388H10V308"/><path d="M532.5,1404H10V308"/>
<path d="M535.5,1420H532.5V1396"/><path d="M535.5,1436H532.5V1408H535.5"/><path d="M538,1452H532.5V1408H535.5"/>
<path d="M542,1468H532.5V1396"/><path d="M542,1484H539V1456H542"/><path d="M547,1500H542V1476"/>
<path d="M550.5,1516H532.5V1396"/><path d="M551.5,1532H547.5V1504H550.5"/><path d="M551.5,1548H547.5V1504H550.5"/>
<path d="M560.5,1564H532.5V1396"/><path d="M561.5,1580H557.5V1552H560.5"/><path d="M734.5,1596H561.5V1588"/>
<path d="M830.5,1612H561.5V1588"/><path d="M830.5,1628H561.5V1588"/><path d="M569.5,1644H532.5V1396"/>
<path d="M573,1660H532.5V1396"/><path d="M580,1676H532.5V1396"/><path d="M581.5,1692H577V1664H580"/>
<path d="M581.5,1708H577V1664H580"/><path d="M582.5,1724H577V1664H580"/><path d="M602.5,1740H580V1684"/>
<path d="M609,1756H580V1684"/><path d="M611.5,1772H606V1744H609"/><path d="M611.5,1788H608.5V1760H611.5"/>
<path d="M624,1804H609V1764"/><path d="M609,1820H580V1684"/><path d="M609,1836H580V1684"/>
<path d="M638,1852H532.5V1396"/><path d="M639.5,1868H635V1840H638"/><path d="M640.5,1884H635V1840H638"/>
<path d="M642,1900H638V1860"/><path d="M642.5,1916H638V1860"/><path d="M644.5,1932H638V1860"/><path d="M645.5,1948H638V1860"/>
<path d="M648.5,1964H532.5V1396"/><path d="M652.5,1980H532.5V1396"/><path d="M656.5,1996H532.5V1396"/>
<path d="M658.5,2012H653.5V1984H656.5"/><path d="M658.5,2028H532.5V1396"/><path d="M665,2044H658.5V2036"/>
<path d="M677.5,2060H658.5V2036"/><path d="M684,2076H658.5V2036"/><path d="M682.5,2092H532.5V1396"/>
<path d="M692,2108H532.5V1396"/><path d="M692,2124H532.5V1396"/><path d="M698,2140H532.5V1396"/>
<path d="M776,2156H698V2148"/><path d="M776,2172H773V2144H776"/><path d="M780,2188H776V2164"/><path d="M788,2204H776V2164"/>
<path d="M697.5,2220H532.5V1396"/><path d="M701.5,2236H697.5V2228"/><path d="M721,2252H532.5V1396"/>
<path d="M722.5,2268H532.5V1396"/><path d="M724,2284H719.5V2256H722.5"/><path d="M742.5,2300H724V2292"/>
<path d="M758,2316H742.5V2308"/><path d="M761,2332H742.5V2308"/><path d="M761,2348H742.5V2308"/>
<path d="M761,2364H742.5V2308"/><path d="M762,2380H742.5V2308"/><path d="M764,2396H742.5V2308"/>
<path d="M777,2412H742.5V2308"/><path d="M776,2428H774V2400H777"/><path d="M776,2444H774V2400H777"/>
<path d="M777,2460H742.5V2308"/><path d="M777,2476H742.5V2308"/><path d="M779.5,2492H742.5V2308"/>
<path d="M779.5,2508H742.5V2308"/><path d="M832.5,2524H742.5V2308"/><path d="M740,2540H532.5V1396"/>
<path d="M782.5,2556H532.5V1396"/><path d="M784.5,2572H779.5V2544H782.5"/><path d="M786.5,2588H782.5V2564"/>
<path d="M786,2604H532.5V1396"/><path d="M792.5,2620H532.5V1396"/><path d="M793.5,2636H532.5V1396"/>
<path d="M795,2652H790.5V2624H793.5"/><path d="M799.5,2668H793.5V2644"/><path d="M807,2684H793.5V2644"/>
<path d="M807,2700H532.5V1396"/><path d="M808.5,2716H804V2688H807"/><path d="M808.5,2732H804V2688H807"/>
<path d="M809.5,2748H804V2688H807"/><path d="M824.5,2764H532.5V1396"/><path d="M824.5,2780H821.5V2752H824.5"/>
<path d="M832,2796H532.5V1396"/><path d="M833.5,2812H829V2784H832"/><path d="M836.5,2828H832V2804"/>
<path d="M841,2844H532.5V1396"/><path d="M842,2860H532.5V1396"/><path d="M846.5,2876H842V2868"/>
<path d="M866.5,2892H532.5V1396"/><path d="M867.5,2908H863.5V2880H866.5"/><path d="M872,2924H532.5V1396"/>
<path d="M874.5,2940H532.5V1396"/><path d="M880,2956H532.5V1396"/><path d="M886.5,2972H880V2964"/>
<path d="M890,2988H532.5V1396"/><path d="M889.5,3004H532.5V1396"/><path d="M894.5,3020H532.5V1396"/>
<path d="M895.5,3036H532.5V1396"/><path d="M898,3052H892.5V3024H895.5"/><path d="M903.5,3068H898V3060"/>
<path d="M907.5,3084H532.5V1396"/><path d="M911,3100H532.5V1396"/><path d="M913.5,3116H532.5V1396"/>
<path d="M915.5,3132H910.5V3104H913.5"/><path d="M916.5,3148H532.5V1396"/>
<path d="M10,3180H7V3152H10"/><path d="M10,3196H7V3152H10"/><path d="M789,3212H10V3204"/>
<path d="M12,3228H7V3152H10"/><path d="M46.5,3244H10V3172"/><path d="M88,3260H10V3172"/>
<path d="M393,3276H10V3172"/><path d="M426,3292H10V3172"/><path d="M439,3308H10V3172"/>
</g>
<text x="14" y="3309" font-family="DejaVu Sans, Liberation Sans, sans-serif" font-size="14" fill="#000" fill-opacity="0.3125">http://code.google.com/p/pybootchartgui</text>
</svg>
